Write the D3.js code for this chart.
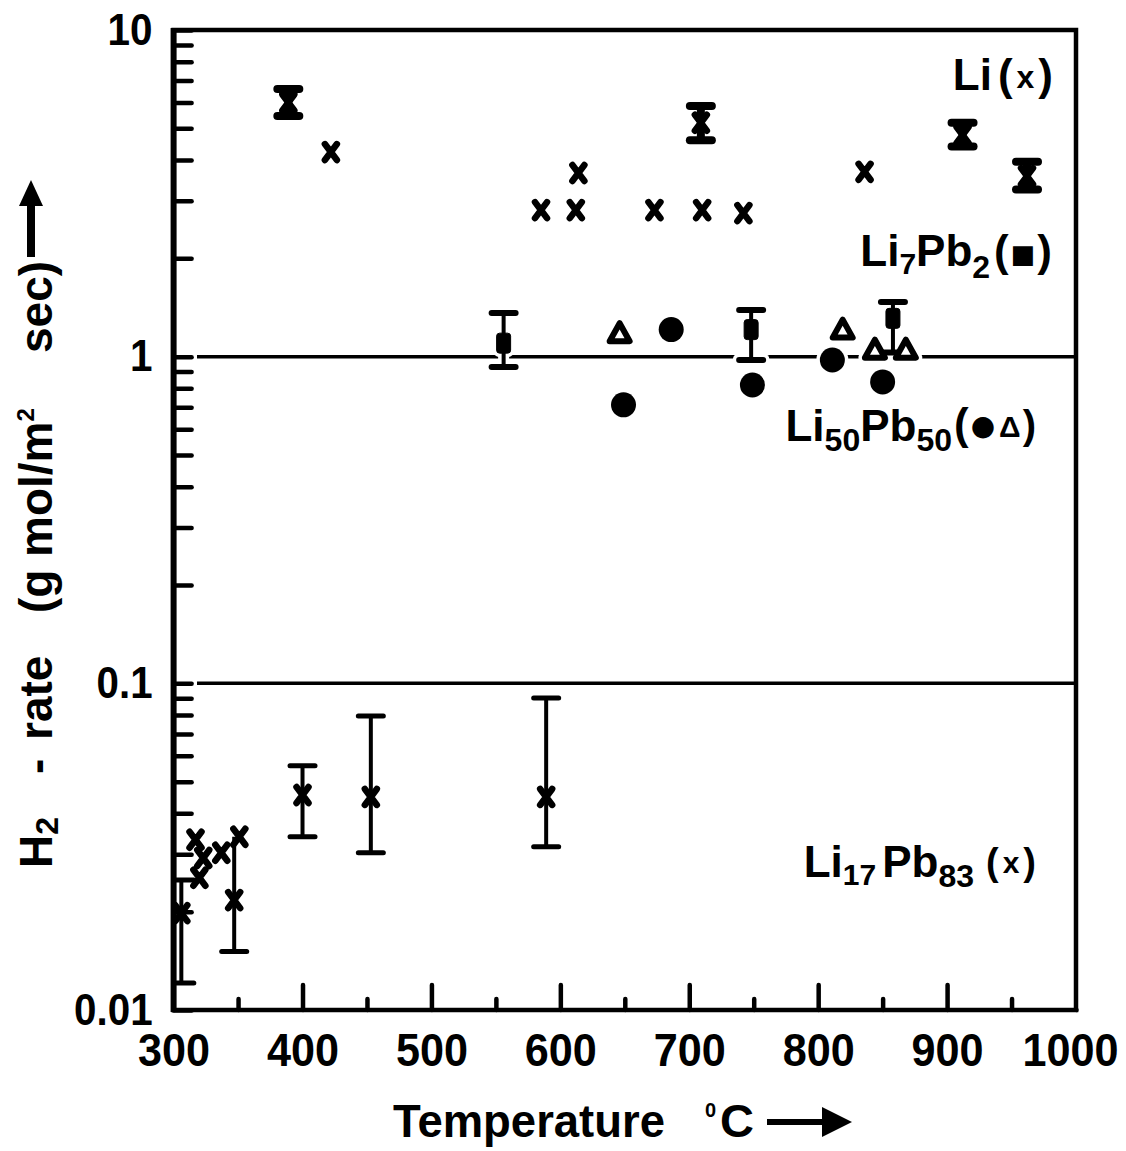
<!DOCTYPE html>
<html><head><meta charset="utf-8">
<script src="https://cdn.jsdelivr.net/npm/d3@7"></script>
<style>
body{margin:0;background:#fff}
text{font-family:"Liberation Sans",Arial,Helvetica,sans-serif;font-weight:bold;fill:#000}
</style>
</head><body><svg id="c" width="1126" height="1151"></svg>
<script>
// ---- data ----
const liT = [422, 614, 585, 612, 673, 710, 742, 836];
const liV = [4.23, 3.65, 2.81, 2.81, 2.81, 2.81, 2.75, 3.68];
const liErrT = [389, 709, 912, 962];
const liErrV = [6.0, 5.2, 4.77, 3.57];
const liErrLo = [5.45, 4.6, 4.4, 3.25];
const liErrHi = [6.6, 5.85, 5.2, 3.95];

const pb2T = [556, 748, 858];
const pb2V = [1.10, 1.21, 1.31];
const pb2Lo = [0.93, 0.977, 1.03];
const pb2Hi = [1.36, 1.39, 1.47];

const pb50CircT = [649, 686, 749, 811, 850];
const pb50CircV = [0.712, 1.21, 0.819, 0.977, 0.837];
const pb50TriT = [646, 819, 844, 868];
const pb50TriV = [1.18, 1.21, 1.05, 1.05];

const pb83T = [317, 323, 320, 337, 351];
const pb83V = [0.0332, 0.0292, 0.0254, 0.0303, 0.0339];
const pb83ErrT = [306, 347, 400, 453, 589];
const pb83ErrV = [0.0198, 0.0217, 0.0455, 0.0449, 0.0449];
const pb83ErrLo = [0.0121, 0.0151, 0.0339, 0.0303, 0.0316];
const pb83ErrHi = [0.0250, 0.0339, 0.0559, 0.0795, 0.0902];
const pb83TopCap = [true, false, true, true, true];

const refLines = [1, 0.1];
const xTickVals = d3.range(300, 1001, 50);
const xTickLabelVals = [300, 400, 500, 600, 700, 800, 900, 1000];
const xTickLabels = ["300", "400", "500", "600", "700", "800", "900", "1000"];
const yTickLabelVals = [0.01, 0.1, 1, 10];
const yTickLabels = ["0.01", "0.1", "1", "10"];

// ---- scales ----
const svg = d3.select("#c");
const x = d3.scaleLinear().domain([300, 1000]).range([173.6, 1076]);
const y = d3.scaleLog().domain([0.01, 10]).range([1010, 30]);

svg.append("clipPath").attr("id", "plotclip").append("rect")
  .attr("x", x(300)).attr("y", y(10)).attr("width", x(1000) - x(300)).attr("height", y(0.01) - y(10));
const plot = svg.append("g").attr("clip-path", "url(#plotclip)");

// reference lines
plot.append("g").selectAll("line").data(refLines).join("line")
  .attr("x1", 197).attr("x2", x(1000))
  .attr("y1", d => y(d)).attr("y2", d => y(d))
  .attr("stroke", "#000").attr("stroke-width", 3.5);

const X_PATH = "M-6,-8L6,8M-6,8L6,-8";
const TRI_PATH = "M0,-10L10,8L-10,8Z";

function drawErr(g, T, lo, hi, capW, capSW, barSW, topCaps, halo) {
  const add = halo ? 7 : 0, col = halo ? "#fff" : "#000";
  const idx = d3.range(T.length);
  g.append("g").selectAll("line").data(idx).join("line")
    .attr("x1", i => x(T[i])).attr("x2", i => x(T[i]))
    .attr("y1", i => y(lo[i])).attr("y2", i => y(hi[i]))
    .attr("stroke", col).attr("stroke-width", barSW + add);
  const caps = [];
  idx.forEach(i => {
    caps.push({t: T[i], v: lo[i]});
    if (!topCaps || topCaps[i]) caps.push({t: T[i], v: hi[i]});
  });
  g.append("g").selectAll("line").data(caps).join("line")
    .attr("x1", d => x(d.t) - capW / 2).attr("x2", d => x(d.t) + capW / 2)
    .attr("y1", d => y(d.v)).attr("y2", d => y(d.v))
    .attr("stroke", col).attr("stroke-width", capSW + add).attr("stroke-linecap", "round");
}
function drawX(g, T, V, halo) {
  const add = halo ? 7 : 0, col = halo ? "#fff" : "#000";
  g.append("g").selectAll("path").data(d3.range(T.length)).join("path")
    .attr("d", X_PATH).attr("transform", i => `translate(${x(T[i])},${y(V[i])})`)
    .attr("fill", "none").attr("stroke", col).attr("stroke-width", 6.5 + add).attr("stroke-linecap", "round");
}

function layer(halo) {
  const g = plot.append("g");
  const add = halo ? 7 : 0, col = halo ? "#fff" : "#000";
  // Li7Pb2 (squares with error bars)
  drawErr(g, pb2T, pb2Lo, pb2Hi, 24, 6, 4, null, halo);
  g.append("g").selectAll("rect").data(d3.range(pb2T.length)).join("rect")
    .attr("x", i => x(pb2T[i]) - 7).attr("y", i => y(pb2V[i]) - 10)
    .attr("width", 14).attr("height", 20).attr("rx", 3)
    .attr("fill", col).attr("stroke", col).attr("stroke-width", 1 + add);
  // Li50Pb50 circles
  g.append("g").selectAll("circle").data(d3.range(pb50CircT.length)).join("circle")
    .attr("cx", i => x(pb50CircT[i])).attr("cy", i => y(pb50CircV[i]))
    .attr("r", 12.5 + add / 2).attr("fill", col);
  // Li50Pb50 triangles
  g.append("g").selectAll("path").data(d3.range(pb50TriT.length)).join("path")
    .attr("d", TRI_PATH).attr("transform", i => `translate(${x(pb50TriT[i])},${y(pb50TriV[i])})`)
    .attr("fill", "#fff").attr("stroke", col).attr("stroke-width", 6 + add).attr("stroke-linejoin", "round");
  if (halo) return;
  // Li (x) with hourglass error bars
  drawErr(g, liErrT, liErrLo, liErrHi, 22, 8, 8, null, false);
  drawX(g, liErrT, liErrV, false);
  drawX(g, liT, liV, false);
  // Li17Pb83
  drawErr(g, pb83ErrT, pb83ErrLo, pb83ErrHi, 25, 5, 4, pb83TopCap, false);
  drawX(g, pb83ErrT, pb83ErrV, false);
  drawX(g, pb83T, pb83V, false);
}
layer(true);
layer(false);

// ---- axes ----
const yTickVals = [];
[0.01, 0.1, 1].forEach(dec => { for (let k = 1; k <= 9; k++) yTickVals.push(k * dec); });
yTickVals.push(10);
const yLabelOf = v => { const i = yTickLabelVals.findIndex(t => Math.abs(t - v) / v < 1e-6); return i >= 0 ? yTickLabels[i] : ""; };
const gy = svg.append("g").attr("transform", `translate(${x(300)},0)`)
  .call(d3.axisLeft(y).tickValues(yTickVals).tickSize(-18).tickPadding(21).tickFormat(yLabelOf));
gy.select(".domain").remove();
gy.selectAll(".tick line").attr("stroke", "#000").attr("stroke-width", 4.5).attr("stroke-linecap", "round");
gy.selectAll(".tick text").attr("font-size", 44).attr("font-family", null)
  .attr("textLength", d => { const s = yLabelOf(d); return s ? [...s].reduce((a, c) => a + (c === "." ? 11 : 22.5), 0) : null; })
  .attr("lengthAdjust", "spacingAndGlyphs");

const xLabelOf = v => { const i = xTickLabelVals.indexOf(v); return i >= 0 ? xTickLabels[i] : ""; };
const gx = svg.append("g").attr("transform", `translate(0,${y(0.01)})`)
  .call(d3.axisBottom(x).tickValues(xTickVals).tickSize(-25).tickPadding(23).tickFormat(xLabelOf));
gx.select(".domain").remove();
gx.selectAll(".tick line").attr("stroke", "#000").attr("stroke-width", 4.5).attr("stroke-linecap", "round")
  .attr("y2", d => (d === 300 || d === 1000) ? 0 : (d % 100 === 0 ? -25 : -11));
gx.selectAll(".tick text").attr("font-size", 46).attr("font-family", null)
  .attr("textLength", d => xLabelOf(d).length * 24).attr("lengthAdjust", "spacingAndGlyphs")
  .attr("dx", d => d === 1000 ? -6 : 0);

// frame
svg.append("rect").attr("x", x(300)).attr("y", y(10)).attr("width", x(1000) - x(300)).attr("height", y(0.01) - y(10))
  .attr("fill", "none").attr("stroke", "#000").attr("stroke-width", 4.5);
svg.append("line").attr("x1", x(300)).attr("x2", x(300)).attr("y1", y(10) - 2).attr("y2", y(0.01) + 2)
  .attr("stroke", "#000").attr("stroke-width", 6);

// ---- rich text helper ----
function rich(xs, ys, parts, anchor) {
  const t = svg.append("text").attr("x", xs).attr("y", ys).attr("text-anchor", anchor || "start");
  parts.forEach(p => {
    const s = t.append("tspan").text(p.t).attr("font-size", p.s || 44);
    if (p.dy) s.attr("dy", p.dy);
    if (p.dx) s.attr("dx", p.dx);
    if (p.f) s.style("font-family", p.f);
  });
  return t;
}

// series annotations
rich(1053, 90, [{t: "Li"}, {t: "(", dx: 6}, {t: "x", s: 32, dx: 4, dy: -2}, {t: ")", dx: 4, dy: 2}], "end");
rich(1052, 266, [{t: "Li"}, {t: "7", s: 30, dy: 8}, {t: "Pb", dy: -8}, {t: "2", s: 32, dy: 12},
  {t: "(", dy: -12, dx: 4}, {t: "■", s: 26, dx: 2, dy: -3, f: "DejaVu Sans"}, {t: ")", dx: 2, dy: 3}], "end");
rich(1036, 441, [{t: "Li"}, {t: "50", s: 32, dy: 10}, {t: "Pb", dy: -10}, {t: "50", s: 32, dy: 10},
  {t: "(", dy: -12, dx: 2}, {t: "●", s: 28, dx: 2, dy: -4, f: "DejaVu Sans"}, {t: "Δ", s: 30, dx: 4, dy: 2}, {t: ")", s: 40, dx: 2, dy: 2}], "end");
rich(1036, 877, [{t: "Li"}, {t: "17", s: 30, dy: 8}, {t: "Pb", dx: 6, dy: -8}, {t: "83", s: 32, dy: 10},
  {t: "(", s: 38, dx: 12, dy: -12}, {t: "x", s: 30, dx: 4, dy: -2}, {t: ")", s: 38, dx: 4, dy: 2}], "end");

// ---- axis titles ----
svg.append("text").attr("x", 393).attr("y", 1137).attr("font-size", 47)
  .attr("textLength", 272).attr("lengthAdjust", "spacingAndGlyphs").text("Temperature");
svg.append("text").attr("x", 705).attr("y", 1117).attr("font-size", 20).text("0");
svg.append("text").attr("x", 720).attr("y", 1137).attr("font-size", 47).text("C");
svg.append("path").attr("d", "M767,1122L826,1122").attr("stroke", "#000").attr("stroke-width", 6);
svg.append("path").attr("d", "M822,1107L852,1122L822,1137Z").attr("fill", "#000");

const gl = svg.append("g").attr("transform", "translate(52,0) rotate(-90)");
const yl = gl.append("text").attr("font-size", 46);
yl.append("tspan").attr("x", -868).attr("y", 0).text("H");
yl.append("tspan").attr("font-size", 32).attr("dy", 6).text("2");
yl.append("tspan").attr("x", -774).attr("y", 0).text("-");
yl.append("tspan").attr("x", -740).attr("y", 0).text("rate");
yl.append("tspan").attr("x", -613).attr("y", 0).text("(g");
yl.append("tspan").attr("x", -557).attr("y", 0).text("mol/m");
yl.append("tspan").attr("font-size", 24).attr("dy", -18).text("2");
yl.append("tspan").attr("x", -353).attr("y", 0).text("sec)");
svg.append("path").attr("d", "M31,257L31,200").attr("stroke", "#000").attr("stroke-width", 8);
svg.append("path").attr("d", "M19,206L31,180L43,206Z").attr("fill", "#000");
</script></body></html>
